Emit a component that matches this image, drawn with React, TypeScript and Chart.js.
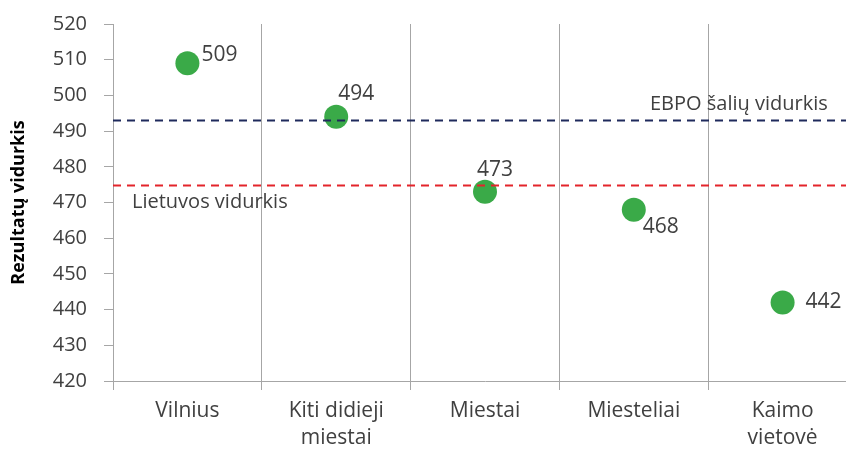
import React, { useEffect, useRef } from "react";
import { Chart, registerables } from "chart.js";

Chart.register(...registerables);

const categories: string[][] = [
  ["Vilnius"],
  ["Kiti didieji", "miestai"],
  ["Miestai"],
  ["Miesteliai"],
  ["Kaimo", "vietovė"],
];
const scores: number[] = [509, 494, 473, 468, 442];
const oecdAverage = 493;
const lithuaniaAverage = 475;
const oecdLabel = "EBPO šalių vidurkis";
const lithuaniaLabel = "Lietuvos vidurkis";
const yTitle = "Rezultatų vidurkis";
const yMin = 420;
const yMax = 520;
const yStep = 10;

// label placement style per point: [dx, dy, align]
const labelPlacement: [number, number, CanvasTextAlign][] = [
  [14, -8, "left"],
  [2, -23, "left"],
  [10, -22, "center"],
  [9, 17, "left"],
  [23, 0, "left"],
];

const FONT = "'Open Sans', sans-serif";

const overlayPlugin = {
  id: "overlay",
  afterDatasetsDraw(chart: any) {
    const { ctx, chartArea, scales } = chart;
    const y = scales.y;
    ctx.save();
    const drawLine = (v: number, color: string) => {
      const py = Math.round(y.getPixelForValue(v)) + 0.5;
      ctx.beginPath();
      ctx.setLineDash([8, 6]);
      ctx.lineWidth = 2;
      ctx.strokeStyle = color;
      ctx.moveTo(chartArea.left, py);
      ctx.lineTo(chartArea.right, py);
      ctx.stroke();
    };
    drawLine(oecdAverage, "#1f2a5c");
    drawLine(lithuaniaAverage, "#e3242b");
    ctx.setLineDash([]);
    ctx.fillStyle = "#404040";
    ctx.font = `20px ${FONT}`;
    ctx.textBaseline = "middle";
    ctx.textAlign = "left";
    ctx.fillText(oecdLabel, 650, y.getPixelForValue(oecdAverage) - 16);
    ctx.fillText(lithuaniaLabel, 132, y.getPixelForValue(lithuaniaAverage) + 18);

    const meta = chart.getDatasetMeta(0);
    ctx.font = `21px ${FONT}`;
    meta.data.forEach((pt: any, i: number) => {
      const [dx, dy, align] = labelPlacement[i];
      ctx.textAlign = align;
      ctx.fillText(String(scores[i]), pt.x + dx, pt.y + dy);
    });
    ctx.restore();
  },
};

export default function App() {
  const ref = useRef<HTMLCanvasElement>(null);
  useEffect(() => {
    if (!ref.current) return;
    const chart = new Chart(ref.current, {
      type: "line",
      data: {
        labels: categories as any,
        datasets: [
          {
            data: scores,
            showLine: false,
            pointRadius: 12,
            pointHoverRadius: 12,
            pointBackgroundColor: "#3aaa48",
            pointBorderColor: "#3aaa48",
            pointBorderWidth: 0,
          } as any,
        ],
      },
      plugins: [overlayPlugin],
      options: {
        animation: false,
        responsive: false,
        devicePixelRatio: 1,
        layout: { autoPadding: false, padding: { top: 24, right: 3, left: 0, bottom: 0 } },
        plugins: { legend: { display: false }, tooltip: { enabled: false } },
        scales: {
          x: {
            type: "category",
            offset: true,
            grid: {
              offset: true,
              display: true,
              color: "#a6a6a6",
              lineWidth: 1,
              tickLength: 9,
              drawOnChartArea: true,
            },
            border: { display: true, color: "#a6a6a6" },
            ticks: {
              color: "#404040",
              font: { family: FONT, size: 21, lineHeight: 1.3 },
              padding: 7,
              maxRotation: 0,
              autoSkip: false,
            },
            afterFit(s: any) {
              s.height = 72;
              s.paddingLeft = 0;
              s.paddingRight = 0;
            },
          },
          y: {
            min: yMin,
            max: yMax,
            grid: {
              display: true,
              drawOnChartArea: false,
              color: "#a6a6a6",
              tickLength: 9,
            },
            border: { display: true, color: "#a6a6a6" },
            ticks: {
              stepSize: yStep,
              color: "#404040",
              font: { family: FONT, size: 20 },
              padding: 17,
            },
            title: {
              display: true,
              text: yTitle,
              color: "#000000",
              font: { family: FONT, size: 18, weight: "bold" },
              padding: { top: 8, bottom: 0 },
            },
            afterFit(s: any) {
              s.width = 113;
              s.paddingTop = 0;
              s.paddingBottom = 0;
            },
          },
        },
      },
    });
    return () => chart.destroy();
  }, []);
  return (
    <div
      style={{
        position: "fixed",
        left: 0,
        top: 0,
        width: 846,
        height: 453,
        overflow: "hidden",
        background: "#fff",
      }}
    >
      <canvas ref={ref} width={860} height={453} style={{ display: "block" }} />
    </div>
  );
}
